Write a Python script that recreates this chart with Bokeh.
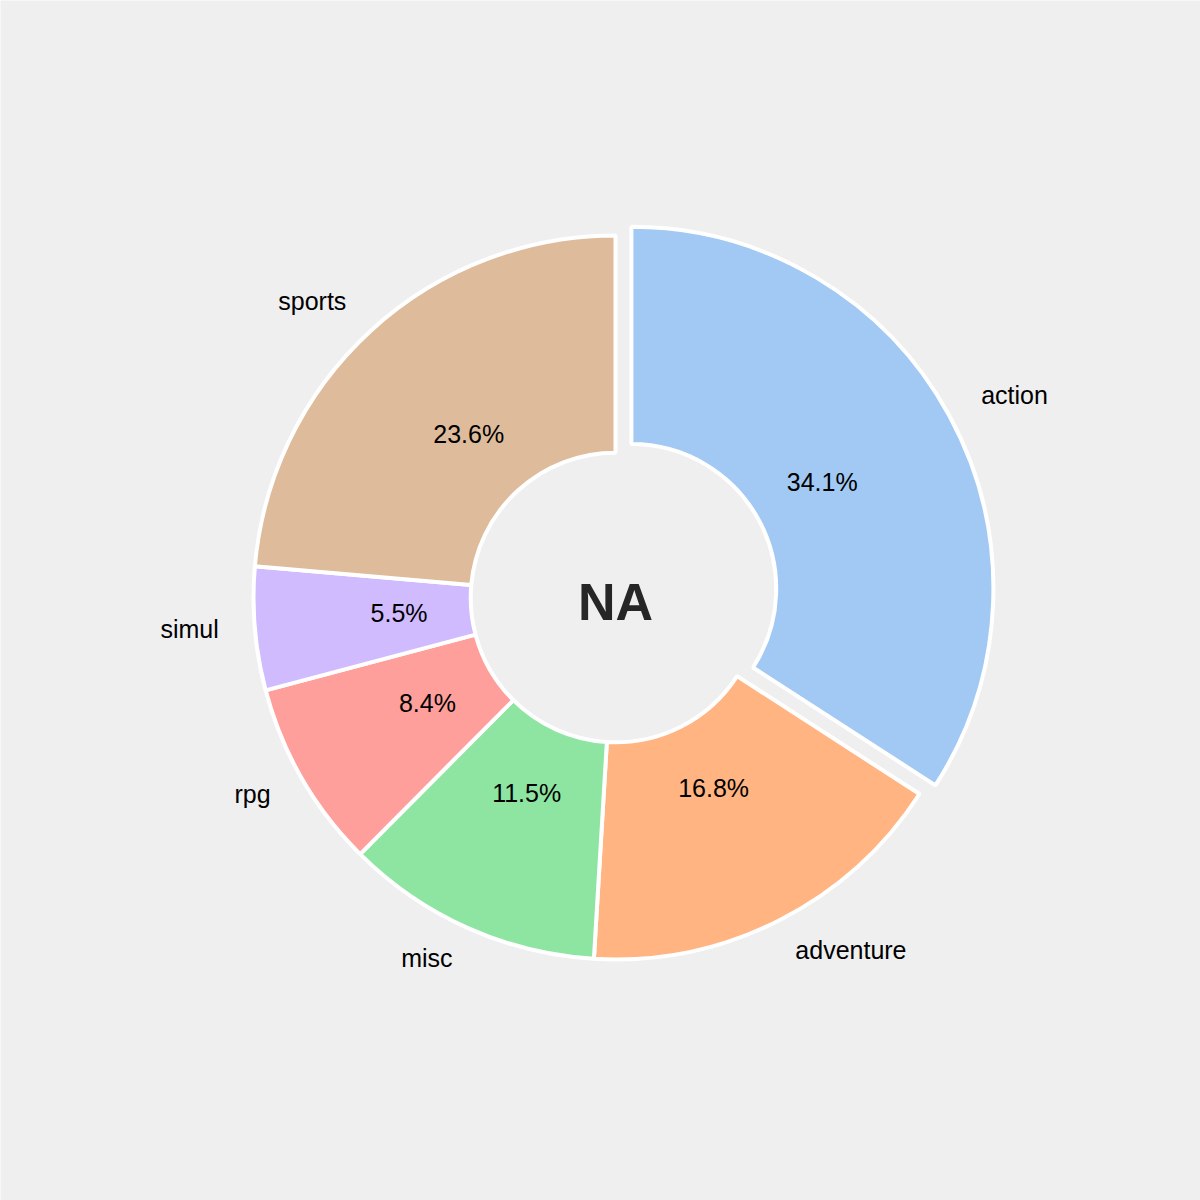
import numpy as np
from bokeh.plotting import figure
from bokeh.models import ColumnDataSource, Range1d
from bokeh.core.properties import value
from bokeh.embed import file_html
from bokeh.resources import INLINE

categories = ["action", "adventure", "misc", "rpg", "simul", "sports"]
shares = [34.1, 16.8, 11.5, 8.4, 5.5, 23.6]
colors = ["#a1c9f4", "#ffb482", "#8de5a1", "#ff9f9b", "#d0bbff", "#debb9b"]
explode = [0.05, 0, 0, 0, 0, 0]
center_title = "NA"

vals = np.array(shares, dtype=float)
frac = vals / vals.sum()
cum = np.concatenate([[0], np.cumsum(frac)])
theta_start = np.pi / 2 - 2 * np.pi * cum[:-1]
theta_end = np.pi / 2 - 2 * np.pi * cum[1:]
mid = (theta_start + theta_end) / 2
ex = np.array(explode)
cx = ex * np.cos(mid)
cy = ex * np.sin(mid)

inner_r = 0.4
outer_r = 1.0

src = ColumnDataSource(dict(
    x=cx, y=cy, start=theta_end, end=theta_start, color=colors,
))

lab_x = cx + 1.1 * np.cos(mid)
lab_y = cy + 1.1 * np.sin(mid)
lab_align = ["left" if v > 0 else "right" for v in np.cos(mid)]
lab_src = ColumnDataSource(dict(x=lab_x, y=lab_y, text=categories, align=lab_align))

pct_x = cx + 0.6 * np.cos(mid)
pct_y = cy + 0.6 * np.sin(mid)
pct_src = ColumnDataSource(dict(x=pct_x, y=pct_y, text=[f"{v:.1f}%" for v in shares]))

unit = 362.0
p = figure(width=1200, height=1200, output_backend="svg", toolbar_location=None,
           x_range=Range1d(-615 / unit, 585 / unit), y_range=Range1d(-603 / unit, 597 / unit),
           min_border=0, background_fill_color="#efefef", border_fill_color="#efefef")
p.outline_line_color = None
p.axis.visible = False
p.grid.visible = False

p.annular_wedge(x="x", y="y", inner_radius=inner_r, outer_radius=outer_r,
                start_angle="start", end_angle="end", direction="anticlock",
                fill_color="color", line_color="white", line_width=4, source=src)

p.text(x="x", y="y", text="text", text_align="align", text_baseline="middle",
       text_font=value("Liberation Sans"), text_font_size="25px", text_color="black",
       y_offset=-3, source=lab_src)
p.text(x="x", y="y", text="text", text_align="center", text_baseline="middle",
       text_font=value("Liberation Sans"), text_font_size="25px", text_color="black",
       y_offset=-3, source=pct_src)
p.text(x=[0], y=[0], text=[center_title], text_align="center", text_baseline="middle",
       text_font=value("Liberation Sans"), text_font_size="52px", text_font_style="bold",
       text_color="#262626", y_offset=4)

open("out.html", "w").write(file_html(p, INLINE))
